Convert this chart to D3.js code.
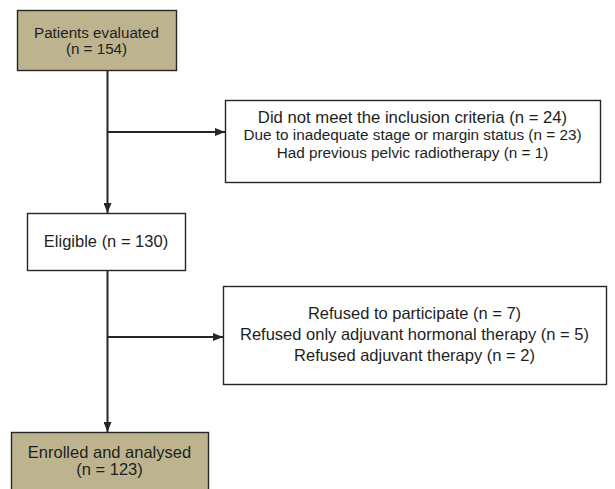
<!DOCTYPE html>
<html>
<head>
<meta charset="utf-8">
<script src="https://cdn.jsdelivr.net/npm/d3@7"></script>
<style>
  body { margin: 0; background: #fff; }
  text { font-family: "Liberation Sans", Arial, sans-serif; fill: #1e1e1e; }
</style>
</head>
<body>
<svg width="615" height="489"></svg>
<script>
// Flow steps (main column) and exclusions (side boxes)
const mainSteps = ["Patients evaluated", "Eligible", "Enrolled and analysed"];
const mainCounts = [154, 130, 123];
const exclusionTitles = ["Did not meet the inclusion criteria", "Refused to participate"];
const exclusionCounts = [24, 7];
const exclusionReasons = [
  ["Due to inadequate stage or margin status", "Had previous pelvic radiotherapy"],
  ["Refused only adjuvant hormonal therapy", "Refused adjuvant therapy"]
];
const reasonCounts = [[23, 1], [5, 2]];

const svg = d3.select("svg");
const fillTan = "#bdb48f";
const stroke = "#262626";

svg.append("defs")
  .append("marker")
  .attr("id", "arrow")
  .attr("viewBox", "0 0 10 10")
  .attr("refX", 10)
  .attr("refY", 5)
  .attr("markerWidth", 10)
  .attr("markerHeight", 8)
  .attr("markerUnits", "userSpaceOnUse")
  .attr("orient", "auto")
  .attr("preserveAspectRatio", "none")
  .append("path")
  .attr("d", "M0,0 L10,5 L0,10 z")
  .attr("fill", stroke);

// box layout
const mainBoxes = [
  { x: 17, y: 10, w: 159, h: 60, fill: fillTan,
    lines: [mainSteps[0], `(n = ${mainCounts[0]})`], textY: [37.5, 54], sizes: [15.2, 15.2] },
  { x: 27, y: 213, w: 158, h: 57, fill: "#fff",
    lines: [`${mainSteps[1]} (n = ${mainCounts[1]})`], textY: [247], sizes: [16.5] },
  { x: 11, y: 432, w: 197, h: 70, fill: fillTan,
    lines: [mainSteps[2], `(n = ${mainCounts[2]})`], textY: [458, 474.5], sizes: [16.5, 16.5] }
];

const sideBoxes = exclusionTitles.map((t, i) => ({
  fill: "#fff",
  lines: [`${t} (n = ${exclusionCounts[i]})`]
    .concat(exclusionReasons[i].map((r, j) => `${r} (n = ${reasonCounts[i][j]})`))
}));
Object.assign(sideBoxes[0], { x: 225, y: 100, w: 375, h: 82, textY: [122.5, 140, 157.5], sizes: [16.7, 15.3, 15.3] });
Object.assign(sideBoxes[1], { x: 223, y: 286, w: 383, h: 98, textY: [319, 340, 361], sizes: [16.5, 16.5, 16.5] });

// connectors
const spineX = 107.5;
const connectors = [
  { x1: spineX, y1: 70, x2: spineX, y2: 213 },
  { x1: spineX, y1: 132, x2: 225, y2: 132 },
  { x1: spineX, y1: 270, x2: spineX, y2: 432 },
  { x1: spineX, y1: 337, x2: 223, y2: 337 }
];

svg.selectAll("line.conn")
  .data(connectors)
  .enter()
  .append("line")
  .attr("class", "conn")
  .attr("x1", d => d.x1)
  .attr("y1", d => d.y1)
  .attr("x2", d => d.x2)
  .attr("y2", d => d.y2)
  .attr("stroke", stroke)
  .attr("stroke-width", 2)
  .attr("marker-end", "url(#arrow)");

function drawBox(b) {
  svg.append("rect")
    .attr("x", b.x + 0.5)
    .attr("y", b.y + 0.5)
    .attr("width", b.w)
    .attr("height", b.h)
    .attr("fill", b.fill)
    .attr("stroke", stroke)
    .attr("stroke-width", 1.4);

  svg.selectAll(null)
    .data(b.lines)
    .enter()
    .append("text")
    .attr("x", b.x + b.w / 2)
    .attr("y", (d, i) => b.textY[i])
    .attr("text-anchor", "middle")
    .style("font-size", (d, i) => b.sizes[i] + "px")
    .text(d => d);
}

mainBoxes.forEach(drawBox);
sideBoxes.forEach(drawBox);
</script>
</body>
</html>
